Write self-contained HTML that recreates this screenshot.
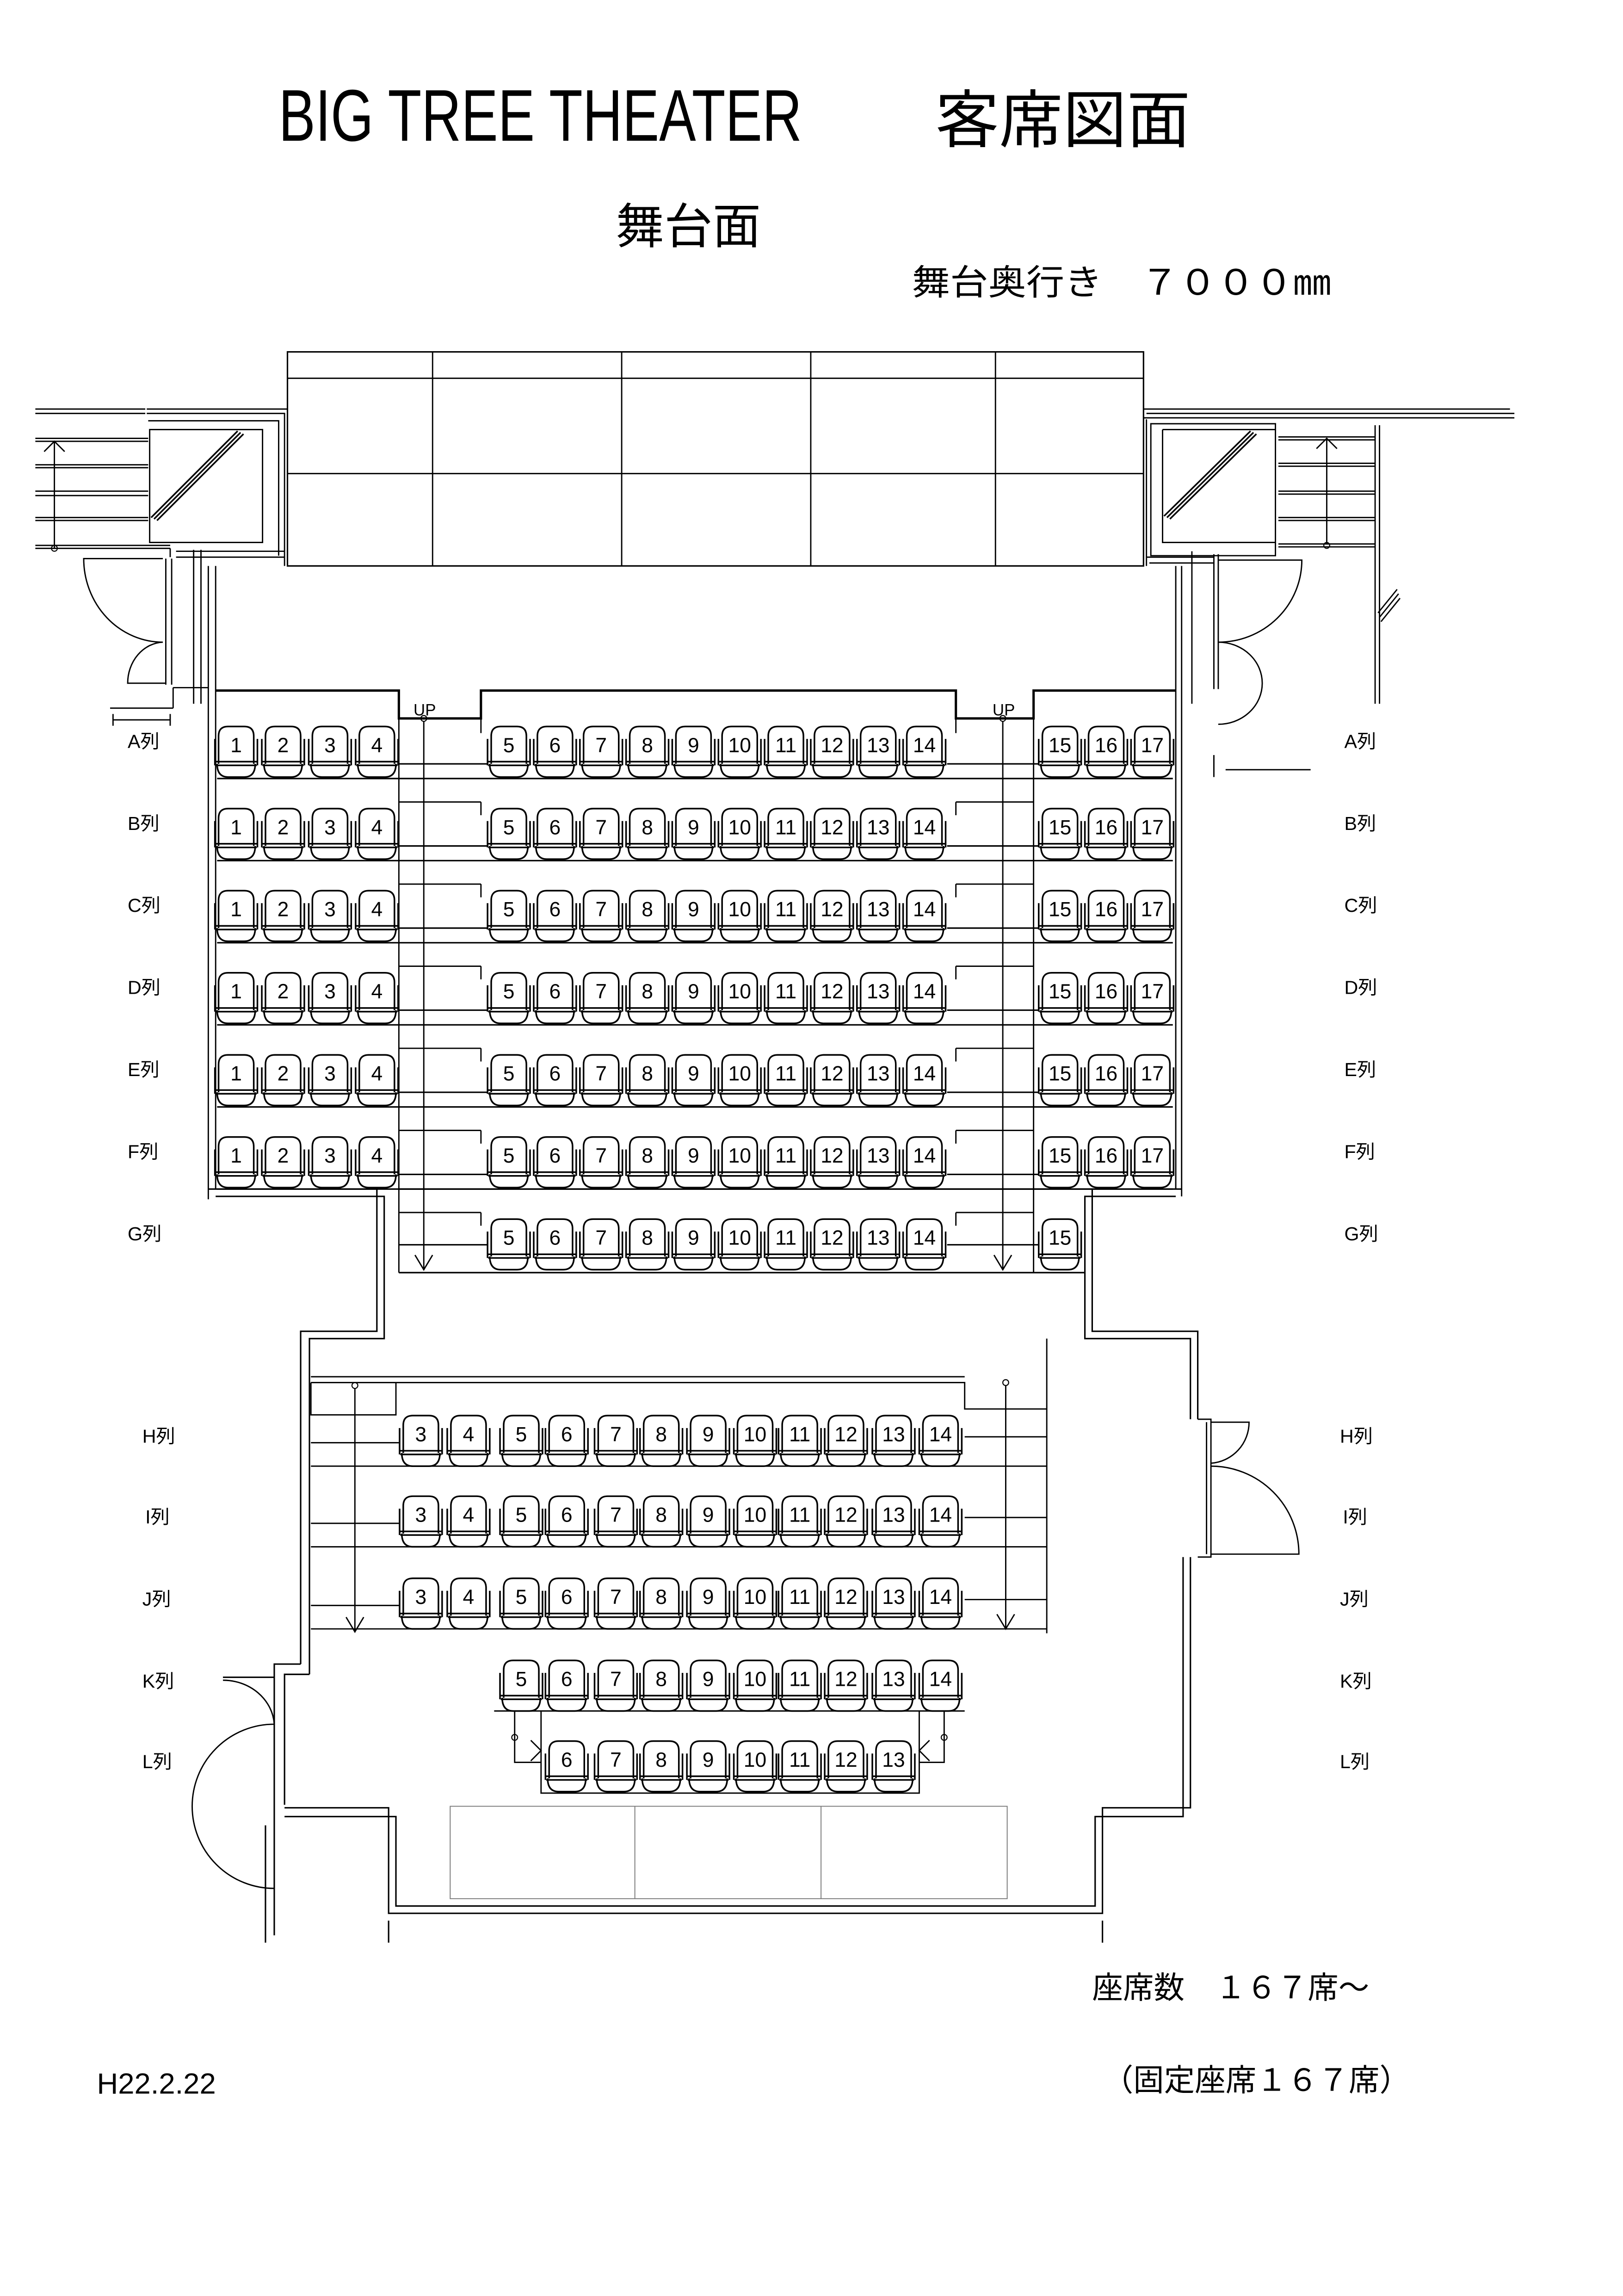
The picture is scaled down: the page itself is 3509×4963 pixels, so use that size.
<!DOCTYPE html>
<html><head><meta charset="utf-8"><style>
html,body{margin:0;padding:0;background:#fff}
svg{display:block}
text{font-family:"Liberation Sans","Noto Sans CJK JP",sans-serif;fill:#000}
.n{font-size:14px;text-anchor:middle}
.l{font-size:13px}
</style></head><body>
<svg xmlns="http://www.w3.org/2000/svg" xmlns:xlink="http://www.w3.org/1999/xlink" width="3509" height="4963" viewBox="0 0 1107 1566">
<defs>
<symbol id="s" overflow="visible">
<path d="M2.5,26 V7 Q2.5,0.5 9,0.5 H20 Q26.5,0.5 26.5,7 V26 M0,9 V27 M29,9 V27 M0,24.5 H29 M0.5,27 H28.5 M1.5,26 Q1.5,35 9,35 H20 Q27.5,35 27.5,26" fill="none" stroke="#000" stroke-width="1.1"/>
</symbol>
<g id="ra">
<use xlink:href="#s" x="146.5" y="495"/><use xlink:href="#s" x="178.5" y="495"/><use xlink:href="#s" x="210.5" y="495"/><use xlink:href="#s" x="242.5" y="495"/>
<use xlink:href="#s" x="332.5" y="495"/><use xlink:href="#s" x="364" y="495"/><use xlink:href="#s" x="395.5" y="495"/><use xlink:href="#s" x="427" y="495"/><use xlink:href="#s" x="458.5" y="495"/><use xlink:href="#s" x="490" y="495"/><use xlink:href="#s" x="521.5" y="495"/><use xlink:href="#s" x="553" y="495"/><use xlink:href="#s" x="584.5" y="495"/><use xlink:href="#s" x="616" y="495"/>
<use xlink:href="#s" x="708.5" y="495"/><use xlink:href="#s" x="740" y="495"/><use xlink:href="#s" x="771.5" y="495"/>
<text class="n" x="161" y="513">1</text><text class="n" x="193" y="513">2</text><text class="n" x="225" y="513">3</text><text class="n" x="257" y="513">4</text>
<text class="n" x="347" y="513">5</text><text class="n" x="378.5" y="513">6</text><text class="n" x="410" y="513">7</text><text class="n" x="441.5" y="513">8</text><text class="n" x="473" y="513">9</text><text class="n" x="504.5" y="513">10</text><text class="n" x="536" y="513">11</text><text class="n" x="567.5" y="513">12</text><text class="n" x="599" y="513">13</text><text class="n" x="630.5" y="513">14</text>
<text class="n" x="723" y="513">15</text><text class="n" x="754.5" y="513">16</text><text class="n" x="786" y="513">17</text>
<path d="M148,531 H800 M272,521 H332 M646,521 H708" stroke="#000" stroke-width="1" fill="none"/>
</g>
<g id="rh">
<use xlink:href="#s" x="272.5" y="965"/><use xlink:href="#s" x="305" y="965"/><use xlink:href="#s" x="341" y="965"/><use xlink:href="#s" x="372" y="965"/><use xlink:href="#s" x="405.5" y="965"/><use xlink:href="#s" x="436.5" y="965"/><use xlink:href="#s" x="468.5" y="965"/><use xlink:href="#s" x="500.5" y="965"/><use xlink:href="#s" x="531" y="965"/><use xlink:href="#s" x="562.5" y="965"/><use xlink:href="#s" x="595" y="965"/><use xlink:href="#s" x="627" y="965"/>
<text class="n" x="287" y="983">3</text><text class="n" x="319.5" y="983">4</text><text class="n" x="355.5" y="983">5</text><text class="n" x="386.5" y="983">6</text><text class="n" x="420" y="983">7</text><text class="n" x="451" y="983">8</text><text class="n" x="483" y="983">9</text><text class="n" x="515" y="983">10</text><text class="n" x="545.5" y="983">11</text><text class="n" x="577" y="983">12</text><text class="n" x="609.5" y="983">13</text><text class="n" x="641.5" y="983">14</text>
<path d="M212,1000 H714 M212,984 H272 M658,980 H714" stroke="#000" stroke-width="0.9" fill="none"/>
</g>
</defs>

<text x="190" y="96" font-size="50" textLength="357" lengthAdjust="spacingAndGlyphs">BIG TREE THEATER</text>
<text x="638" y="97" font-size="43" textLength="174" lengthAdjust="spacingAndGlyphs">客席図面</text>
<text x="420" y="166" font-size="33">舞台面</text>
<text x="622" y="201" font-size="24" textLength="286" lengthAdjust="spacingAndGlyphs">舞台奥行き　７０００㎜</text>

<g fill="none" stroke="#000" stroke-width="1">
<rect x="196" y="240" width="584" height="146"/>
<path d="M196,258 H780 M196,323 H780 M295,240 V386 M424,240 V386 M553,240 V386 M679,240 V386" stroke-width="0.9"/>

<path d="M100,279 H196 M100,282 H194 V386 M101,287 H190 V379 M102,293 H179 V370 H102 Z" stroke-width="0.9"/>
<path d="M103,353 L162,294 M105,354 L164,295 M107,355 L166,296" stroke-width="1.1"/>
<path d="M24,279 H99 M24,282 H99 M24,299 H101 M24,301 H101 M24,317 H101 M24,319 H101 M24,335 H101 M24,338 H101 M24,353 H101 M24,355 H101 M24,372 H116 M24,374 H116" stroke-width="0.9"/>
<path d="M37,374 V301 M30,308 L37,301 L44,308" stroke-width="0.9"/>
<circle cx="37" cy="374" r="2" stroke-width="0.7"/>
<path d="M116,374 V380 M113,381 V467 M117,381 V467 M111,381 H57 A54,57 0 0 0 111,438 M111,438 A25,28 0 0 0 87,466 H113" stroke-width="0.9"/>
<path d="M132,375 V480 M137,375 V480 M142,386 V818 M147,386 V811 M120,376 H194 M120,380 H194" stroke-width="0.9"/>
<path d="M75,483 H118 M77,487 V495 M116,487 V495 M77,491 H116 M118,469 V483 M118,469 H142" stroke-width="0.9"/>

<path d="M780,279 H1030 M782,282 H1033 M780,285 H1033 M782,286 V386 M785,289 H870 V379 H785 Z M793,293 H870 M793,293 V370 H870" stroke-width="0.9"/>
<path d="M794,352 L853,294 M796,353 L855,295 M798,354 L857,296" stroke-width="1.1"/>
<path d="M872,298 H938 M872,300 H938 M872,316 H938 M872,318 H938 M872,335 H938 M872,337 H938 M872,353 H938 M872,355 H938 M872,371 H938 M872,373 H938 M938,290 V480 M941,290 V480 M940,418 L953,402 M941,421 L954,405 M942,424 L955,408" stroke-width="0.9"/>
<path d="M905,371 V299 M898,306 L905,299 L912,306" stroke-width="0.9"/>
<circle cx="905" cy="372" r="2" stroke-width="0.7"/>
<path d="M828,378 V470 M831,378 V470 M831,382 H888 A57,56 0 0 1 831,438 M831,438 A30,28 0 0 1 831,494" stroke-width="0.9"/>
<path d="M802,386 V811 M806,386 V816 M813,376 V480 M782,380 H828 M784,384 H828 M836,525 H894 M828,515 V530" stroke-width="0.9"/>

<path d="M147,471 H272 V490 H328 V471 H652 V490 H705 V471 H802" stroke-width="1.6"/>
<text x="282" y="488" font-size="11" stroke="none">UP</text>
<text x="677" y="488" font-size="11" stroke="none">UP</text>

<path d="M289,492 V866 M283,856 L289,866 L295,856 M684,492 V866 M678,856 L684,866 L690,856" stroke-width="0.9"/>
<circle cx="289" cy="490" r="2" stroke-width="0.7"/>
<circle cx="684" cy="490" r="2" stroke-width="0.7"/>
<path d="M272,490 V868 M705,490 V868 M328,490 V500 M652,490 V500" stroke-width="0.9"/>
<path d="M272,547 H328 M652,547 H705 M272,603 H328 M652,603 H705 M272,659 H328 M652,659 H705 M272,715 H328 M652,715 H705 M272,771 H328 M652,771 H705 M272,827 H328 M652,827 H705 M328,547 V556 M652,547 V556 M328,603 V612 M652,603 V612 M328,659 V668 M652,659 V668 M328,715 V724 M652,715 V724 M328,771 V780 M652,771 V780 M328,827 V836 M652,827 V836" stroke-width="0.9"/>

<path d="M142,811 H257 V908 H205 V1135 M147,816 H262 V913 H211 V1142" stroke-width="1"/>
<path d="M806,811 H745 V908 H817 V968 M802,816 H740 V913 H812 V968" stroke-width="1"/>
<path d="M205,1135 H187 V1320 M211,1142 H194 V1231 M187,1144 H152" stroke-width="1"/>
<path d="M152,1146 A35,32 0 0 1 187,1176 M187,1176 A56,56 0 0 0 187,1288" stroke-width="0.9"/>
<path d="M194,1233 H265 V1305 H752 V1233 H812 V1062 M194,1239 H270 V1300 H747 V1239 H807 V1062 M181,1245 V1325 M265,1310 V1325 M752,1310 V1325" stroke-width="1"/>
<path d="M817,968 H826 V1062 H817 M823,970 V1060 M826,1000 A60,60 0 0 1 886,1060 H826 M826,998 A28,28 0 0 0 852,970 H826" stroke-width="0.9"/>
<path d="M307,1232 H687 V1295 H307 Z M433,1232 V1295 M560,1232 V1295" stroke="#777" stroke-width="0.6"/>

<path d="M272,868 H740 M272,849 H332 M646,849 H708 M272,811 H745" stroke-width="1"/>

<path d="M212,939 H658 M212,943 H658 V961 H714 M714,913 V1114 M212,943 V965 H270 V943" stroke-width="0.9"/>
<path d="M242,947 V1113 M236,1103 L242,1113 L248,1103 M686,945 V1111 M680,1101 L686,1111 L692,1101" stroke-width="0.9"/>
<circle cx="242" cy="945" r="2" stroke-width="0.7"/>
<circle cx="686" cy="943" r="2" stroke-width="0.7"/>
<path d="M337,1167 H658 M369,1167 V1223 H627 V1167" stroke-width="0.9"/>
<path d="M351,1167 V1202 H369 M362,1187 L369,1194 L362,1201 M644,1167 V1202 H627 M634,1187 L627,1194 L634,1201" stroke-width="0.9"/>
<circle cx="351" cy="1185" r="2" stroke-width="0.7"/>
<circle cx="644" cy="1185" r="2" stroke-width="0.7"/>
</g>

<use xlink:href="#ra"/>
<use xlink:href="#ra" y="56"/>
<use xlink:href="#ra" y="112"/>
<use xlink:href="#ra" y="168"/>
<use xlink:href="#ra" y="224"/>
<use xlink:href="#ra" y="280"/>
<g>
<use xlink:href="#s" x="332.5" y="831"/><use xlink:href="#s" x="364" y="831"/><use xlink:href="#s" x="395.5" y="831"/><use xlink:href="#s" x="427" y="831"/><use xlink:href="#s" x="458.5" y="831"/><use xlink:href="#s" x="490" y="831"/><use xlink:href="#s" x="521.5" y="831"/><use xlink:href="#s" x="553" y="831"/><use xlink:href="#s" x="584.5" y="831"/><use xlink:href="#s" x="616" y="831"/><use xlink:href="#s" x="708.5" y="831"/>
<text class="n" x="347" y="849">5</text><text class="n" x="378.5" y="849">6</text><text class="n" x="410" y="849">7</text><text class="n" x="441.5" y="849">8</text><text class="n" x="473" y="849">9</text><text class="n" x="504.5" y="849">10</text><text class="n" x="536" y="849">11</text><text class="n" x="567.5" y="849">12</text><text class="n" x="599" y="849">13</text><text class="n" x="630.5" y="849">14</text><text class="n" x="723" y="849">15</text>
</g>
<use xlink:href="#rh"/>
<use xlink:href="#rh" y="55"/>
<use xlink:href="#rh" y="111"/>
<g>
<use xlink:href="#s" x="341" y="1132"/><use xlink:href="#s" x="372" y="1132"/><use xlink:href="#s" x="405.5" y="1132"/><use xlink:href="#s" x="436.5" y="1132"/><use xlink:href="#s" x="468.5" y="1132"/><use xlink:href="#s" x="500.5" y="1132"/><use xlink:href="#s" x="531" y="1132"/><use xlink:href="#s" x="562.5" y="1132"/><use xlink:href="#s" x="595" y="1132"/><use xlink:href="#s" x="627" y="1132"/>
<text class="n" x="355.5" y="1150">5</text><text class="n" x="386.5" y="1150">6</text><text class="n" x="420" y="1150">7</text><text class="n" x="451" y="1150">8</text><text class="n" x="483" y="1150">9</text><text class="n" x="515" y="1150">10</text><text class="n" x="545.5" y="1150">11</text><text class="n" x="577" y="1150">12</text><text class="n" x="609.5" y="1150">13</text><text class="n" x="641.5" y="1150">14</text>
</g>
<g>
<use xlink:href="#s" x="372" y="1187"/><use xlink:href="#s" x="405.5" y="1187"/><use xlink:href="#s" x="436.5" y="1187"/><use xlink:href="#s" x="468.5" y="1187"/><use xlink:href="#s" x="500.5" y="1187"/><use xlink:href="#s" x="531" y="1187"/><use xlink:href="#s" x="562.5" y="1187"/><use xlink:href="#s" x="595" y="1187"/>
<text class="n" x="386.5" y="1205">6</text><text class="n" x="420" y="1205">7</text><text class="n" x="451" y="1205">8</text><text class="n" x="483" y="1205">9</text><text class="n" x="515" y="1205">10</text><text class="n" x="545.5" y="1205">11</text><text class="n" x="577" y="1205">12</text><text class="n" x="609.5" y="1205">13</text>
</g>

<g>
<text class="l" x="87" y="510">A列</text><text class="l" x="87" y="566">B列</text><text class="l" x="87" y="622">C列</text><text class="l" x="87" y="678">D列</text><text class="l" x="87" y="734">E列</text><text class="l" x="87" y="790">F列</text><text class="l" x="87" y="846">G列</text>
<text class="l" x="917" y="510">A列</text><text class="l" x="917" y="566">B列</text><text class="l" x="917" y="622">C列</text><text class="l" x="917" y="678">D列</text><text class="l" x="917" y="734">E列</text><text class="l" x="917" y="790">F列</text><text class="l" x="917" y="846">G列</text>
<text class="l" x="97" y="984">H列</text><text class="l" x="99" y="1039">I列</text><text class="l" x="97" y="1095">J列</text><text class="l" x="97" y="1151">K列</text><text class="l" x="97" y="1206">L列</text>
<text class="l" x="914" y="984">H列</text><text class="l" x="916" y="1039">I列</text><text class="l" x="914" y="1095">J列</text><text class="l" x="914" y="1151">K列</text><text class="l" x="914" y="1206">L列</text>
</g>

<text x="745" y="1363" font-size="21">座席数　１６７席～</text>
<text x="752" y="1426" font-size="21">（固定座席１６７席）</text>
<text x="66" y="1428" font-size="20">H22.2.22</text>
</svg>
</body></html>
